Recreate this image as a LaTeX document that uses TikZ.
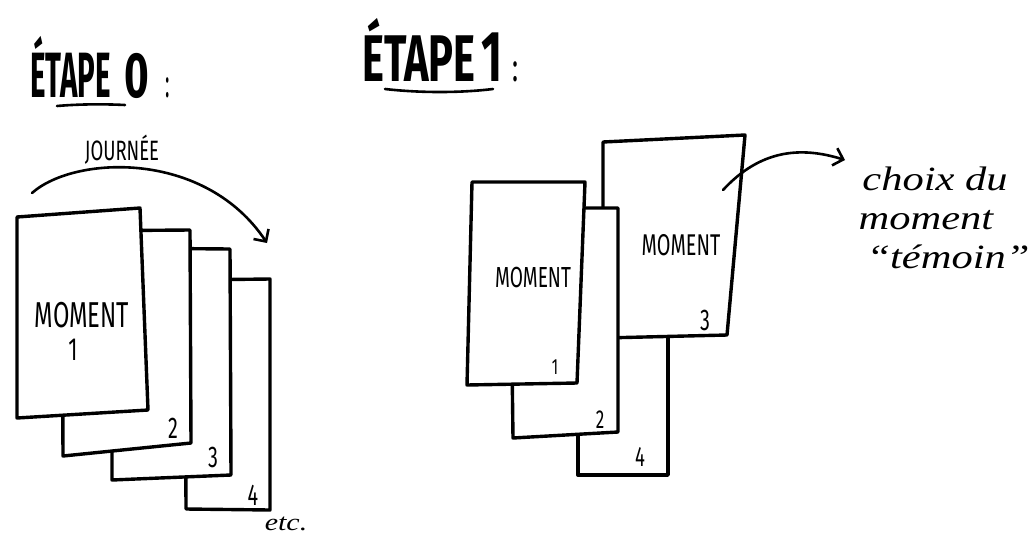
\documentclass[tikz,border=0pt]{standalone}
\usepackage{fontspec}
\setmainfont{Fira Sans}
\newfontfamily\titlefont[FakeStretch=0.46]{Fira Sans}
\newfontfamily\widetitlefont[FakeStretch=0.63]{Fira Sans}
\newfontfamily\capsfont[FakeStretch=0.66]{Fira Sans}
\newfontfamily\notefont[FakeStretch=1.25]{Liberation Serif}
\usetikzlibrary{arrows.meta,positioning}

\begin{document}
\begin{tikzpicture}[x=1pt,y=-1pt,
    page/.style={draw,fill=white,line width=3.4pt,line join=round},
    pen/.style={line width=2.6pt,line cap=round},
    barb/.style={pen,-{Straight Barb[length=9pt,width=18pt]}},
    title/.style={inner sep=0pt,anchor=base west},
    moment/.style={font=\capsfont\fontsize{#1}{#1}\selectfont,inner sep=0pt},
    num/.style={font=\capsfont\fontsize{#1}{#1}\selectfont,inner sep=0pt},
    note/.style={font=\notefont\itshape\fontsize{34}{34}\selectfont,inner sep=0pt,anchor=base}]
  \useasboundingbox[fill=white] (0,0) rectangle (1035,536);

  % titles
  \node[title,font=\titlefont\bfseries\fontsize{64}{64}\selectfont] (etape0) at (30,97)
    {ÉTAPE\hspace{14pt}{\capsfont 0}\hspace{16pt}{\mdseries\fontsize{40}{40}\selectfont:}};
  \node[title,font=\widetitlefont\bfseries\fontsize{66}{66}\selectfont] (etape1) at (362,81)
    {ÉTAPE\hspace{6pt}{\fontsize{72}{72}\selectfont 1}\hspace{10pt}{\mdseries\fontsize{40}{40}\selectfont:}};
  \draw[pen] (57,106) .. controls (80,104) and (105,104) .. (125,105);
  \draw[pen] (385,89) .. controls (420,93) and (460,93) .. (493,89);

  % etape 0 : la journee
  \draw[page] (185,280) -- (270,279) -- (270,510) -- (186,509) -- cycle;
  \draw[page] (112,248) -- (230,249) -- (231,475) -- (112,480) -- cycle;
  \draw[page] (62,231) -- (190,230) -- (191,443) -- (63,456) -- cycle;
  \draw[page] (17,217) -- (140,208) -- (148,410) -- (17,418) -- cycle;
  \node[moment=36] (m1) at (82,315) {MOMENT};
  \node[num=32] (n1) at (73,350) {1};
  \node[num=30] (n2) at (173,428) {2};
  \node[num=30] (n3) at (213,457) {3};
  \node[num=30] (n4) at (253,495) {4};
  \node[note,font=\notefont\itshape\fontsize{24}{24}\selectfont] (etc) at (286,530) {etc.};

  \node[moment=28] (day) at (122,150) {JOURNÉE};
  \coordinate (dayA) at (32,193);
  \coordinate (dayB) at (267,243);
  \draw[barb] (dayA) .. controls (75,155) and (205,150) .. (dayB);

  % etape 1 : le moment temoin
  \draw[page] (578,300) -- (668,300) -- (668,475) -- (578,475) -- cycle;
  \draw[page] (603,142) -- (745,135) -- (727,335) -- (603,338) -- cycle;
  \draw[page] (510,208) -- (618,208) -- (618,432) -- (513,438) -- cycle;
  \draw[page] (472,182) -- (585,182) -- (577,383) -- (467,385) -- cycle;
  \node[moment=29] (r1) at (533,278) {MOMENT};
  \node[moment=30] (r3) at (681,245) {MOMENT};
  \node[num=22] (q1) at (555,367) {1};
  \node[num=26] (q2) at (600,420) {2};
  \node[num=30] (q3) at (705,320) {3};
  \node[num=28] (q4) at (640,457) {4};

  \node[note] (choix) at (935,190) {choix du};
  \node[note] (moment) at (926,229) {moment};
  \node[note] (temoin) at (948,268) {“témoin”};
  \coordinate (pick) at (723,190);
  \coordinate (pickend) at (845,160);
  \draw[barb] (pick) .. controls (760,150) and (800,146) .. (pickend);
\end{tikzpicture}
\end{document}
